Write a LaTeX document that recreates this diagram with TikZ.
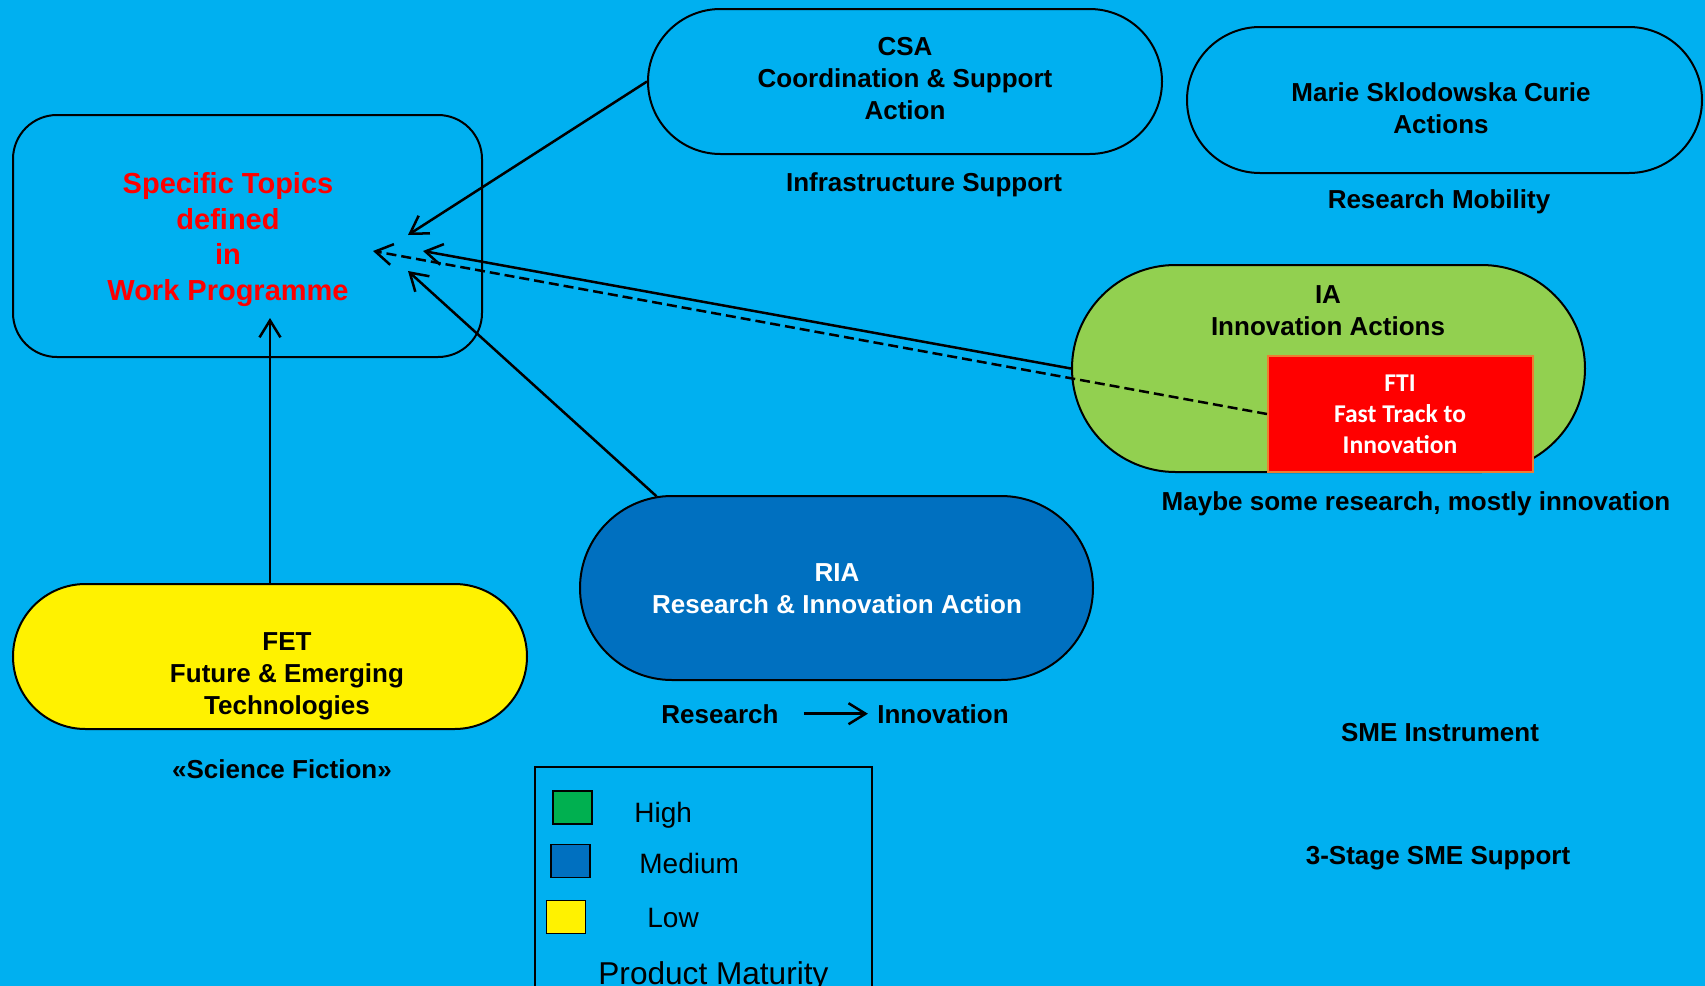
\documentclass[tikz,border=0pt]{standalone}
\usepackage{fontspec}
\setmainfont{Liberation Sans}
\newfontfamily\ftifont{Carlito}
\usetikzlibrary{shapes.misc,arrows.meta}
\definecolor{bgblue}{HTML}{00B0F0}
\definecolor{riablue}{HTML}{0070C0}
\definecolor{iagreen}{HTML}{92D050}
\definecolor{highgreen}{HTML}{00B050}
\definecolor{ftiorange}{HTML}{ED7D31}
\begin{document}
\begin{tikzpicture}[x=0.5pt,y=-0.5pt,
  action/.style={rounded rectangle,draw=black,line width=1pt,inner sep=0pt},
  boldtext/.style={font=\bfseries\fontsize{13pt}{16pt}\selectfont,align=center,inner sep=0pt},
  legtext/.style={font=\fontsize{14pt}{17pt}\selectfont,anchor=base west,inner sep=0pt},
  swatch/.style={draw=black,line width=0.8pt,minimum width=19.5pt,minimum height=16.5pt,inner sep=0pt},
  link/.style={-{Straight Barb[length=8.5pt,width=10.5pt]},line width=1.25pt}]
\fill[bgblue] (0,0) rectangle (1705,986);
\useasboundingbox (0,0) rectangle (1705,986);
% Drawing boxes
% Box 1: work programme topics
\node[draw=black,line width=1pt,rounded corners=22pt,minimum width=234.5pt,minimum height=121pt] (topics) at (247.5,236) {};
\node[boldtext,text=red,font=\bfseries\fontsize{14.5pt}{17.7pt}\selectfont] (topicstext) at (228,239.5) {Specific Topics\\defined\\in\\Work Programme};
% Box 2: CSA
\node[action,minimum width=257pt,minimum height=72.5pt] (csa) at (905,81.5) {};
\node[boldtext] (csatext) at (905,79) {CSA\\Coordination \& Support\\Action};
\node[boldtext,anchor=base] (infra) at (924,191) {Infrastructure Support};
% Box 3: MSCA
\node[action,minimum width=257.5pt,minimum height=73pt] (msca) at (1444.5,100) {};
\node[boldtext] (mscatext) at (1441,108.5) {Marie Sklodowska Curie\\Actions};
\node[boldtext,anchor=base] (mobility) at (1439,208) {Research Mobility};
% Box 4: IA with FTI
\node[action,fill=iagreen,minimum width=256.5pt,minimum height=103.5pt] (ia) at (1328.5,368.5) {};
\node[boldtext] (iatext) at (1328,310.5) {IA\\Innovation Actions};
\node[draw=ftiorange,fill=red,line width=1pt,minimum width=132.5pt,minimum height=58pt] (fti) at (1400.5,414) {};
\node[font=\ftifont\bfseries\fontsize{12.8pt}{15.5pt}\selectfont,text=white,align=center,inner sep=0pt] (ftitext) at (1400,414.5) {FTI\\Fast Track to\\Innovation};
\node[boldtext,anchor=base] (maybe) at (1416,510) {Maybe some research, mostly innovation};
% Box 5: RIA
\node[action,fill=riablue,minimum width=256.5pt,minimum height=92pt] (ria) at (836.5,588) {};
\node[boldtext,text=white] (riatext) at (837,589) {RIA\\Research \& Innovation Action};
\node[boldtext,anchor=base] (research) at (720,723) {Research};
\node[boldtext,anchor=base] (innov) at (943,723) {Innovation};
% Box 6: FET
\node[action,fill=yellow,minimum width=257pt,minimum height=72.5pt] (fet) at (270,656.5) {};
\node[boldtext] (fettext) at (287,676) {FET\\Future \& Emerging\\Technologies};
\node[boldtext,anchor=base] (scifi) at (282,778) {«Science Fiction»};
% SME labels
\node[boldtext,anchor=base] (smeinst) at (1440,741) {SME Instrument};
\node[boldtext,anchor=base] (sme3) at (1438,864) {3-Stage SME Support};
% Done with boxes; drawing legend
\draw[line width=0.8pt] (535,992) -- (535,767) -- (872,767) -- (872,992);
\node[swatch,fill=highgreen] (high) at (572.5,807.5) {};
\node[swatch,fill=riablue] (medium) at (570.5,861) {};
\node[swatch,fill=yellow] (low) at (566,917) {};
\node[legtext] (hightext) at (634,822.7) {High};
\node[legtext] (medtext) at (639,873) {Medium};
\node[legtext] (lowtext) at (647,927.7) {Low};
\node[legtext,font=\fontsize{15.8pt}{19pt}\selectfont] (maturity) at (598,984) {Product Maturity};
% Done with legend; drawing arrows
\coordinate (tipcsa) at (408,235);
\coordinate (tipria) at (408,271);
\coordinate (tipfet) at (270,318);
\coordinate (tipia) at (423,251);
\coordinate (tipfti) at (373,251);
\draw[link] (csa.west) -- (tipcsa);
\draw[link] (ria.153) -- (tipria);
\draw[link] (fet.north) -- (tipfet);
\draw[link] (ia.west) -- (tipia);
\draw[link,dash pattern=on 5pt off 2.5pt] (fti.west) -- (tipfti);
\draw[link] ([xshift=12.5pt]research.east) -- ([xshift=-4.5pt]innov.west);
% Done with arrows
\end{tikzpicture}
\end{document}
